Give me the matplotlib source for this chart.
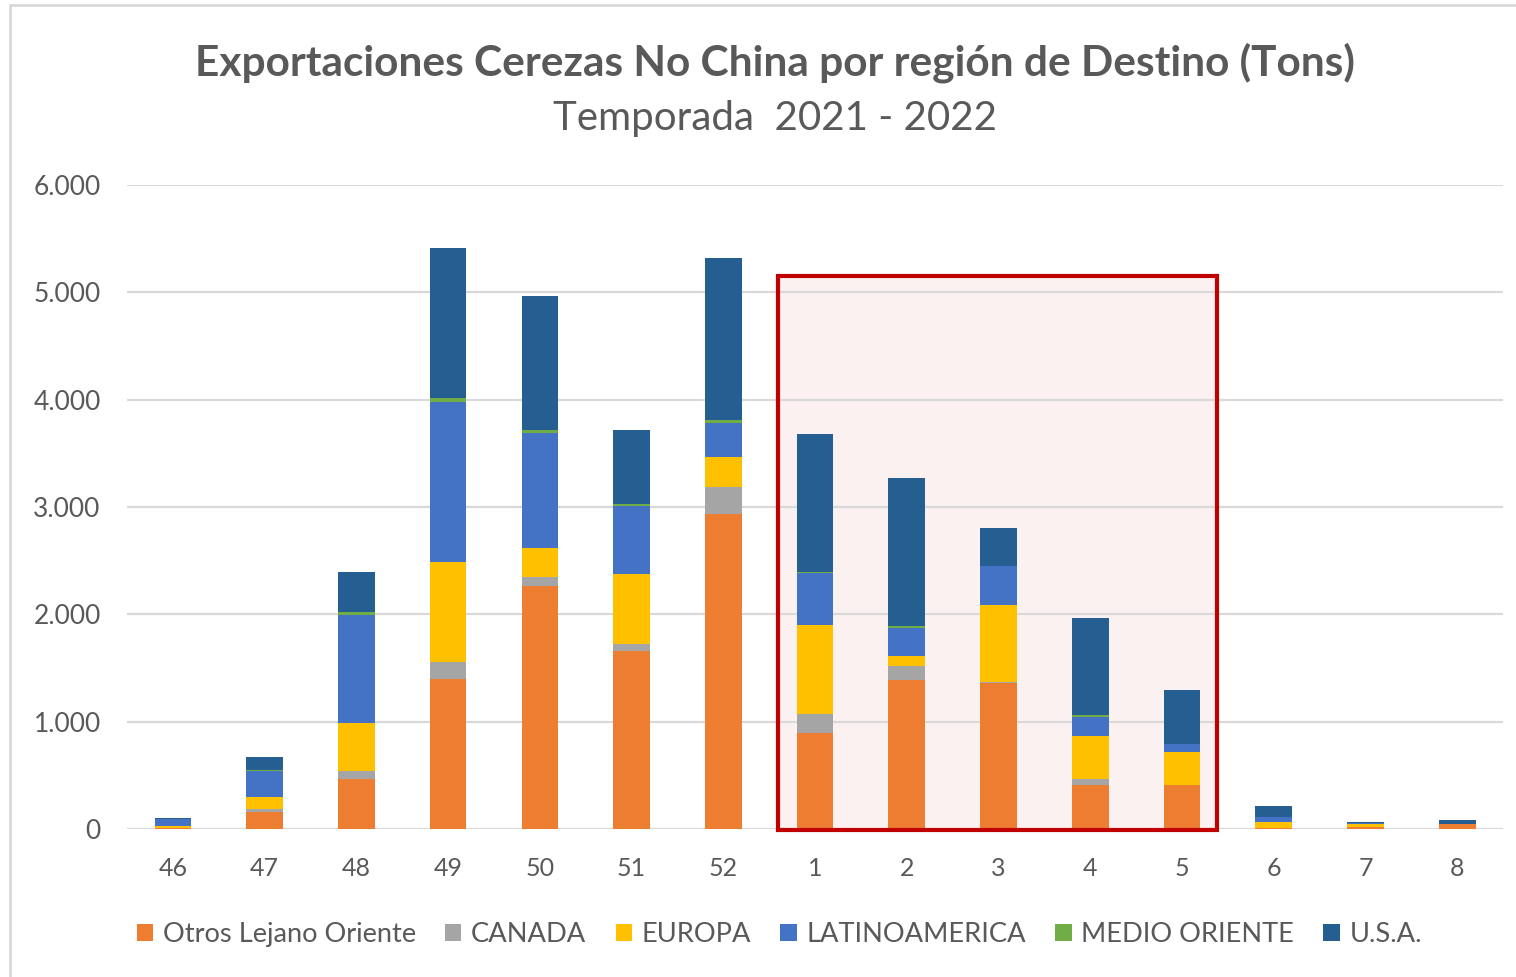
import numpy as np
import matplotlib
matplotlib.use('Agg')
import matplotlib.pyplot as plt
from matplotlib.patches import Rectangle
from matplotlib.ticker import FuncFormatter

plt.rcParams['font.family'] = ['Lato', 'DejaVu Sans']

# Semanas de la temporada
weeks = ['46', '47', '48', '49', '50', '51', '52', '1', '2', '3', '4', '5', '6', '7', '8']

# Toneladas por región
otros_lejano_oriente = [5, 155, 466, 1398, 2266, 1659, 2938, 898, 1385, 1357, 410, 407, 5, 15, 45]
canada = [5, 30, 74, 160, 80, 62, 246, 177, 134, 13, 56, 0, 0, 0, 0]
europa = [18, 115, 448, 933, 276, 650, 284, 829, 90, 714, 404, 314, 60, 30, 5]
latinoamerica = [62, 243, 1005, 1485, 1071, 635, 316, 478, 267, 367, 177, 71, 50, 12, 0]
medio_oriente = [2, 10, 30, 40, 25, 18, 25, 13, 12, 3, 12, 2, 0, 0, 0]
usa = [8, 121, 369, 1398, 1246, 694, 1514, 1285, 1379, 354, 904, 501, 102, 11, 34]

series = [
    ('Otros Lejano Oriente', otros_lejano_oriente, '#ED7D31'),
    ('CANADA', canada, '#A5A5A5'),
    ('EUROPA', europa, '#FFC000'),
    ('LATINOAMERICA', latinoamerica, '#4472C4'),
    ('MEDIO ORIENTE', medio_oriente, '#70AD47'),
    ('U.S.A.', usa, '#255E91'),
]

text_color = '#595959'
grid_color = '#D9D9D9'

fig = plt.figure(figsize=(15.16, 9.77), dpi=100)
ax = fig.add_axes([0.0838, 0.1515, 0.9077, 0.6592])

x = np.arange(len(weeks))
bottom = np.zeros(len(weeks))
for name, vals, color in series:
    ax.bar(x, vals, width=0.4, bottom=bottom, color=color, label=name, zorder=2)
    bottom += np.array(vals)

# Recuadro destacado (semanas 1 a 5)
ax.add_patch(Rectangle((6.6, -10), 4.78, 5160, facecolor='#FBF1F0', edgecolor='none',
                       zorder=0.2, clip_on=False))
ax.add_patch(Rectangle((6.6, -10), 4.78, 5160, facecolor='none', edgecolor='#C00000',
                       linewidth=3, zorder=4, clip_on=False))

ax.set_xlim(-0.5, len(weeks) - 0.5)
ax.set_ylim(0, 6000)
ax.set_yticks(np.arange(0, 6001, 1000))
ax.yaxis.set_major_formatter(FuncFormatter(lambda v, p: f'{int(v):,}'.replace(',', '.')))
ax.set_xticks(x)
ax.set_xticklabels(weeks)
ax.tick_params(axis='both', length=0, labelcolor=text_color)
ax.tick_params(axis='x', pad=20, labelsize=18)
ax.tick_params(axis='y', pad=19, labelsize=19)
ax.grid(axis='y', color=grid_color, linewidth=1.6)
ax.set_axisbelow(True)
for s in ax.spines.values():
    s.set_visible(False)

fig.text(0.511, 0.936, 'Exportaciones Cerezas No China por región de Destino (Tons)',
         ha='center', va='center', fontsize=30.5, fontweight='bold', color=text_color)
fig.text(0.511, 0.879, 'Temporada  2021 - 2022', ha='center', va='center',
         fontsize=29, color=text_color)

ax.legend(loc='center', bbox_to_anchor=(0.474, -0.164), ncol=6, frameon=False,
          fontsize=19.6, labelcolor=text_color, handlelength=0.6, handleheight=0.6,
          handletextpad=0.35, columnspacing=1.08)

# Marco exterior
fig.add_artist(Rectangle((0.0066, -0.01), 1.0, 1.005, transform=fig.transFigure,
                         facecolor='none', edgecolor=grid_color, linewidth=2))

fig.savefig('out.png', dpi=100)
